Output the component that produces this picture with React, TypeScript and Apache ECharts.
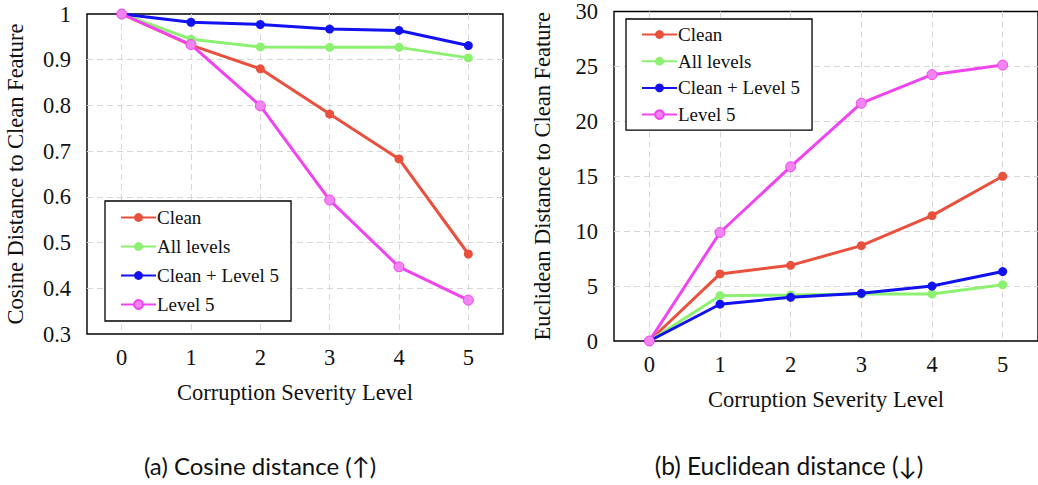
import React, { useEffect, useRef } from "react";
import * as echarts from "echarts";

const levels = [0, 1, 2, 3, 4, 5];
const seriesNames = ["Clean", "All levels", "Clean + Level 5", "Level 5"];

const cosClean = [1.0, 0.932, 0.88, 0.781, 0.683, 0.475];
const cosAll = [1.0, 0.945, 0.928, 0.927, 0.927, 0.904];
const cosCleanL5 = [1.0, 0.982, 0.977, 0.967, 0.964, 0.931];
const cosL5 = [1.0, 0.933, 0.799, 0.593, 0.447, 0.374];

const eucClean = [0, 6.11, 6.89, 8.68, 11.41, 15.0];
const eucAll = [0, 4.13, 4.19, 4.28, 4.28, 5.12];
const eucCleanL5 = [0, 3.35, 3.98, 4.34, 5.0, 6.32];
const eucL5 = [0, 9.88, 15.87, 21.65, 24.25, 25.12];

const cosYTicks = [0.3, 0.4, 0.5, 0.6, 0.7, 0.8, 0.9, 1];
const eucYTicks = [0, 5, 10, 15, 20, 25, 30];

const captions = ["(a) Cosine distance (↑)", "(b) Euclidean distance (↓)"];

const lineColors = ["#e9503d", "#8cf070", "#1212f0", "#f044f0"];
const markerFill = ["#e9503d", "#8cf070", "#1212f0", "#f084f0"];

const SERIF = "'Liberation Serif', 'Times New Roman', serif";
const AXIS_FS = 22.5;

export default function App() {
  const ref = useRef<HTMLDivElement>(null);
  useEffect(() => {
    if (!ref.current) return;
    const chart = echarts.init(ref.current, undefined, { renderer: "svg" });
    const cosData = [cosClean, cosAll, cosCleanL5, cosL5];
    const eucData = [eucClean, eucAll, eucCleanL5, eucL5];

    const mkX = (gridIndex: number) => ({
      type: "value",
      gridIndex,
      min: -0.5,
      max: 5.5,
      splitNumber: 6,
      minInterval: 1,
      maxInterval: 1,
      axisLine: { show: false },
      axisTick: { show: false },
      axisLabel: {
        fontFamily: SERIF,
        fontSize: AXIS_FS,
        color: "#111",
        margin: 12,
        showMinLabel: false,
        showMaxLabel: false,
        formatter: (v: number) => (Number.isInteger(v) && levels.includes(v) ? String(v) : ""),
      },
      splitLine: {
        show: true,
        showMinLine: false,
        showMaxLine: false,
        lineStyle: { color: "#d6d6d6", type: [6, 4], width: 1 },
      },
      name: "Corruption Severity Level",
      nameLocation: "middle",
      nameGap: 47,
      nameTextStyle: { fontFamily: SERIF, fontSize: AXIS_FS, color: "#111" },
    });

    const mkY = (gridIndex: number, ticks: number[], interval: number, name: string) => ({
      type: "value",
      gridIndex,
      min: ticks[0],
      max: ticks[ticks.length - 1],
      interval,
      axisLine: { show: false },
      axisTick: { show: false },
      axisLabel: {
        fontFamily: SERIF,
        fontSize: AXIS_FS,
        color: "#111",
        margin: 16,
        formatter: (v: number) => String(Math.round(v * 10) / 10),
      },
      splitLine: {
        show: true,
        showMinLine: false,
        showMaxLine: false,
        lineStyle: { color: "#d6d6d6", type: [6, 4], width: 1 },
      },
      name,
      nameLocation: "middle",
      nameGap: 60,
      nameTextStyle: { fontFamily: SERIF, fontSize: AXIS_FS, color: "#111" },
    });

    const series: any[] = [];
    [cosData, eucData].forEach((group, gi) => {
      group.forEach((vals, si) => {
        series.push({
          type: "line",
          name: seriesNames[si],
          xAxisIndex: gi,
          yAxisIndex: gi,
          data: levels.map((x, i) => [x, vals[i]]),
          symbol: "circle",
          symbolSize: si === 3 ? 10 : 9,
          showSymbol: true,
          lineStyle: { color: lineColors[si], width: 3 },
          itemStyle: {
            color: markerFill[si],
            borderColor: lineColors[si],
            borderWidth: si === 3 ? 1 : 0,
          },
          z: 2 + si,
        });
      });
    });

    const mkLegend = (left: number, top: number, itemGap: number, padV: number) => ({
      left,
      top,
      orient: "vertical",
      data: seriesNames,
      itemWidth: 35,
      itemHeight: 11,
      itemGap,
      padding: [padV, 12, padV, 15],
      backgroundColor: "#fff",
      borderColor: "#000",
      borderWidth: 1.3,
      borderRadius: 0,
      selectedMode: false,
      textStyle: {
        fontFamily: SERIF,
        fontSize: 19,
        lineHeight: 16,
        color: "#111",
        padding: [0, 0, 0, -4],
      },
    });

    chart.setOption({
      animation: false,
      backgroundColor: "#fff",
      grid: [
        {
          left: 87,
          right: 535,
          top: 14,
          bottom: 151,
          show: true,
          borderColor: "#000",
          borderWidth: 1.4,
          backgroundColor: "transparent",
        },
        {
          left: 614,
          right: -10,
          top: 7,
          bottom: 144,
          show: true,
          borderColor: "#000",
          borderWidth: 1.4,
          backgroundColor: "transparent",
        },
      ],
      xAxis: [mkX(0), mkX(1)],
      yAxis: [
        mkY(0, cosYTicks, 0.1, "Cosine Distance to Clean Feature"),
        mkY(1, eucYTicks, 5, "Euclidean Distance to Clean Feature"),
      ],
      legend: [mkLegend(105, 201, 10, 7), mkLegend(626, 19, 7.7, 6)],
      title: [
        {
          text: captions[0],
          left: 255,
          top: 448,
          textAlign: "center",
          textStyle: { fontFamily: "Lato, 'Noto Sans', sans-serif", fontSize: 24, fontWeight: "normal", color: "#111" },
        },
        {
          text: captions[1],
          left: 784,
          top: 448,
          textAlign: "center",
          textStyle: { fontFamily: "Lato, 'Noto Sans', sans-serif", fontSize: 24.5, fontWeight: "normal", color: "#111" },
        },
      ],
      series,
    });
    return () => chart.dispose();
  }, []);
  return (
    <div
      ref={ref}
      style={{ position: "fixed", left: 0, top: 0, width: 1038, height: 485, background: "#fff" }}
    />
  );
}
